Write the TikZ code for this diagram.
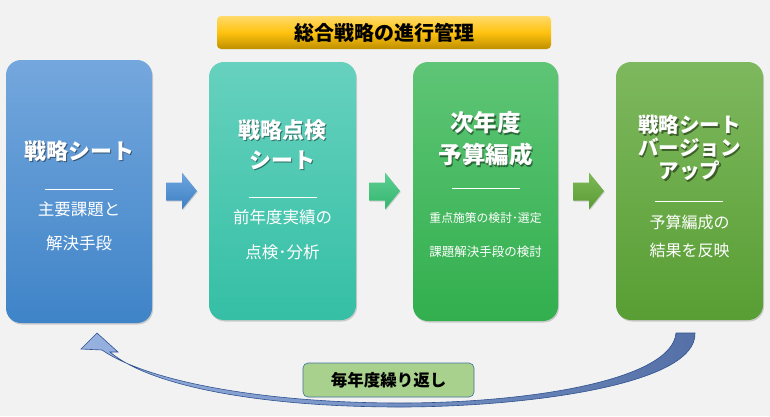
\documentclass[tikz,border=0pt]{standalone}
\usepackage{fontspec}
\newfontfamily\jp{Noto Sans CJK JP}
\usetikzlibrary{shadows}
\definecolor{bg}{HTML}{F2F2F2}
\definecolor{bluetop}{HTML}{74A7DD}\definecolor{bluebot}{HTML}{3F84C8}
\definecolor{tealtop}{HTML}{66D1BE}\definecolor{tealbot}{HTML}{35BFA5}
\definecolor{greentop}{HTML}{5EC576}\definecolor{greenbot}{HTML}{32AF4E}
\definecolor{olivetop}{HTML}{7EB85E}\definecolor{olivebot}{HTML}{589E34}
\definecolor{goldtop}{HTML}{FFDA6A}\definecolor{goldmid}{HTML}{FFC20E}\definecolor{goldbot}{HTML}{BE8F00}
\definecolor{labelfill}{HTML}{A9D18E}\definecolor{labeldraw}{HTML}{41719C}
\definecolor{cyclel}{HTML}{97B1E0}\definecolor{cycler}{HTML}{5470A6}\definecolor{cycledraw}{HTML}{2F528F}
\tikzset{
  stagebox/.style={rounded corners=15pt, minimum width=#1, inner sep=0pt,
     drop shadow={shadow xshift=1pt, shadow yshift=-1.5pt, opacity=0.35}},
  ttl/.style={font=\jp\bfseries\fontsize{#1}{#1}\selectfont, text=white, inner sep=0pt},
  ttlsh/.style={font=\jp\bfseries\fontsize{#1}{#1}\selectfont, text=black, opacity=0.45, inner sep=0pt},
  sub/.style={font=\jp\fontsize{#1}{#1}\selectfont, text=white, inner sep=0pt},
  sep/.style={draw=white, line width=0.7pt}
}
\begin{document}
\begin{tikzpicture}[x=1pt,y=-1pt]
\fill[bg] (0,0) rectangle (770,416);
\useasboundingbox (0,0) rectangle (770,416);

% title
\node[rounded corners=4pt, minimum width=334pt, minimum height=33pt, inner sep=0pt,
  top color=goldtop, bottom color=goldbot, middle color=goldmid,
  font=\jp\bfseries\fontsize{20}{20}\selectfont] (title) at (384,32.5) {総合戦略の進行管理};

% boxes
\node[stagebox=146pt, minimum height=263pt, top color=bluetop, bottom color=bluebot] (b1) at (79,191.5) {};
\node[stagebox=147pt, minimum height=258pt, top color=tealtop, bottom color=tealbot] (b2) at (282.5,191) {};
\node[stagebox=145pt, minimum height=259pt, top color=greentop, bottom color=greenbot] (b3) at (485.5,191.5) {};
\node[stagebox=147pt, minimum height=258pt, top color=olivetop, bottom color=olivebot] (b4) at (689.5,191) {};

% box 1 text
\node[ttlsh=22] at (80.3,152.5) {戦略シート};
\node[ttl=22] (b1t) at (79,151) {戦略シート};
\draw[sep] (45,189) -- (113,189);
\node[sub=16.5] (b1s1) at (79,209) {主要課題と};
\node[sub=16.5] (b1s2) at (79,243) {解決手段};

% box 2 text
\node[ttlsh=22] at (283.8,131.5) {戦略点検};
\node[ttl=22] (b2t1) at (282.5,130) {戦略点検};
\node[ttlsh=22] at (283.8,161.5) {シート};
\node[ttl=22] (b2t2) at (282.5,160) {シート};
\draw[sep] (249,197) -- (317,197);
\node[sub=16.5] (b2s1) at (282.5,217) {前年度実績の};
\node[sub=16.5] (b2s2) at (282.5,252) {点検･分析};

% box 3 text
\node[ttlsh=23.5] at (486.8,124.5) {次年度};
\node[ttl=23.5] (b3t1) at (485.5,123) {次年度};
\node[ttlsh=23.5] at (486.8,156.5) {予算編成};
\node[ttl=23.5] (b3t2) at (485.5,155) {予算編成};
\draw[sep] (452,188) -- (520,188);
\node[sub=11.8] (b3s1) at (485.5,218) {重点施策の検討･選定};
\node[sub=12.5] (b3s2) at (485.5,252) {課題解決手段の検討};

% box 4 text
\node[ttlsh=20.5] at (690.8,126.5) {戦略シート};
\node[ttl=20.5] (b4t1) at (689.5,125) {戦略シート};
\node[ttlsh=20.5] at (690.8,149.5) {バージョン};
\node[ttl=20.5] (b4t2) at (689.5,148) {バージョン};
\node[ttlsh=20.5] at (690.8,172.5) {アップ};
\node[ttl=20.5] (b4t3) at (689.5,171) {アップ};
\draw[sep] (655,201) -- (723,201);
\node[sub=16] (b4s1) at (689.5,222) {予算編成の};
\node[sub=16] (b4s2) at (689.5,250) {結果を反映};

% block arrows
\foreach \x/\ct/\cb in {166/6FA6DF/3C7FC2, 369/5CCF93/35B56F, 573/7DBA55/5A9A35}{
  \definecolor{at}{HTML}{\ct}\definecolor{ab}{HTML}{\cb}
  \path[top color=at, bottom color=ab, drop shadow={shadow xshift=0.8pt, shadow yshift=-1pt, opacity=0.3}]
    (\x,182.5) -- (\x+16,182.5) -- (\x+16,172.5) -- (\x+31,191) -- (\x+16,209.5) -- (\x+16,200.5) -- (\x,200.5) -- cycle;
}

% cycle arrow
\path[draw=cycledraw, line width=0.6pt, left color=cyclel, right color=cycler]
  (676,333) -- (695,333)
  .. controls (697,386) and (520,407) .. (400,407)
  .. controls (260,407) and (150,386) .. (110,352)
  -- (118,352) -- (97,333) -- (81,349) -- (102,350)
  .. controls (150,383) and (270,403) .. (400,403)
  .. controls (530,403) and (672,380) .. (676,333) -- cycle;

% label
\node[rounded corners=5pt, fill=labelfill, draw=labeldraw, line width=0.6pt,
  minimum width=171pt, minimum height=34pt, inner sep=0pt,
  font=\jp\bfseries\fontsize{16.5}{16.5}\selectfont] (lab) at (388.5,380) {毎年度繰り返し};
\end{tikzpicture}
\end{document}
